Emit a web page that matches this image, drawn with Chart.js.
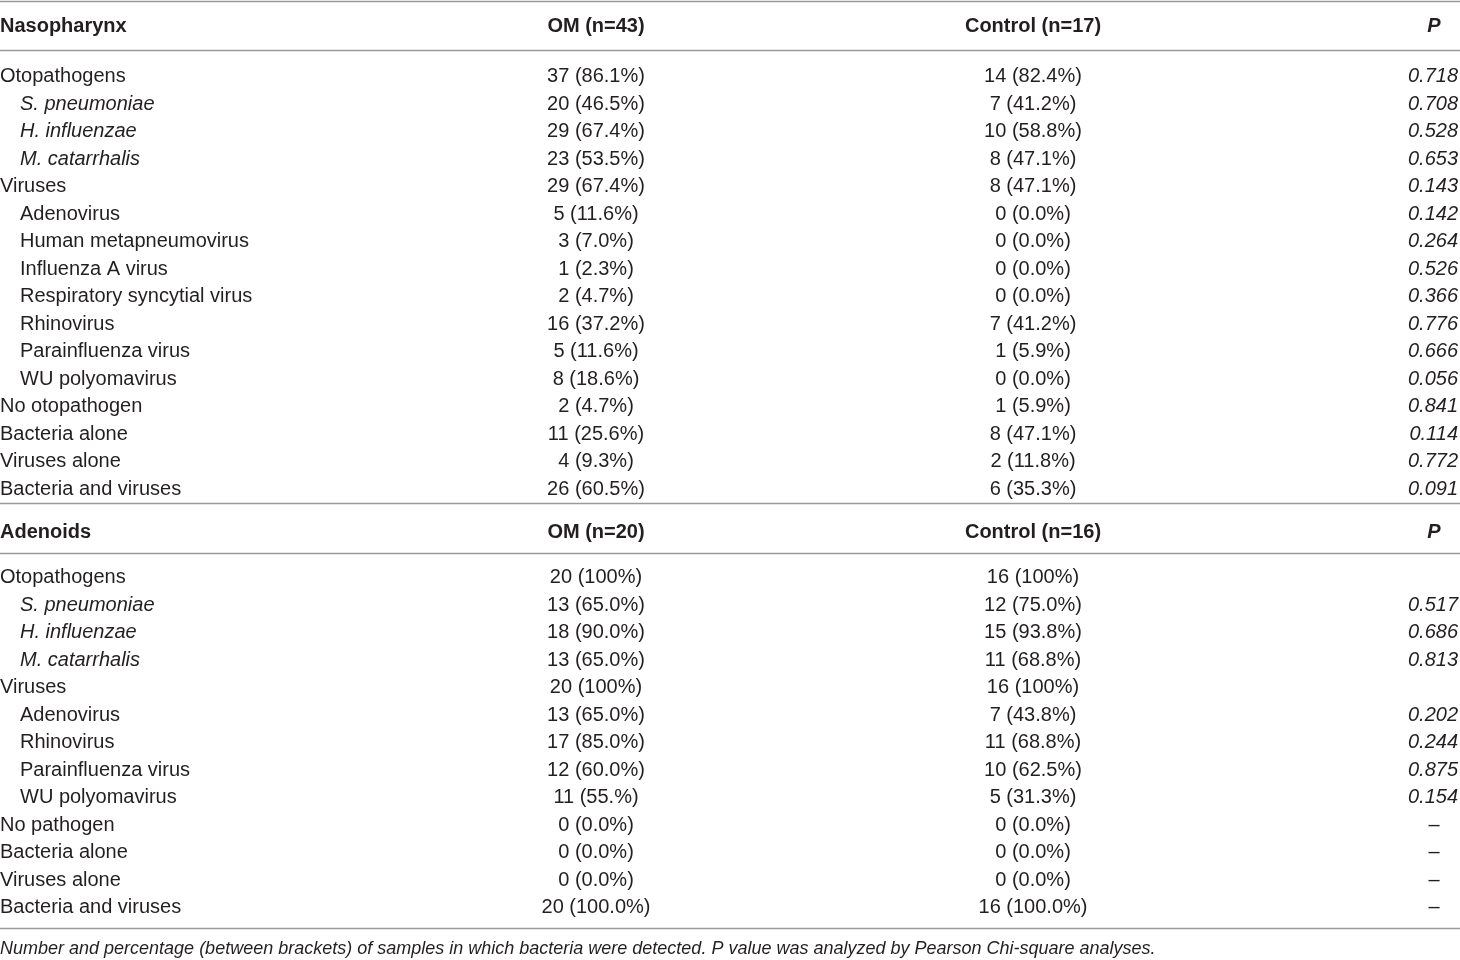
<!DOCTYPE html>
<html>
<head>
<meta charset="utf-8">
<script src="https://cdn.jsdelivr.net/npm/chart.js@4.4.1/dist/chart.umd.min.js"></script>
<style>
  html, body { margin: 0; padding: 0; background: #fff; }
  canvas { display: block; }
</style>
</head>
<body>
<canvas id="tableChart" width="1460" height="960"></canvas>
<script>
// ---- data ----
const nasoHeads = ['Nasopharynx', 'OM (n=43)', 'Control (n=17)', 'P'];
const nasoLabels = ['Otopathogens', 'S. pneumoniae', 'H. influenzae', 'M. catarrhalis', 'Viruses',
  'Adenovirus', 'Human metapneumovirus', 'Influenza A virus', 'Respiratory syncytial virus',
  'Rhinovirus', 'Parainfluenza virus', 'WU polyomavirus', 'No otopathogen', 'Bacteria alone',
  'Viruses alone', 'Bacteria and viruses'];
const nasoOM = ['37 (86.1%)', '20 (46.5%)', '29 (67.4%)', '23 (53.5%)', '29 (67.4%)', '5 (11.6%)',
  '3 (7.0%)', '1 (2.3%)', '2 (4.7%)', '16 (37.2%)', '5 (11.6%)', '8 (18.6%)', '2 (4.7%)',
  '11 (25.6%)', '4 (9.3%)', '26 (60.5%)'];
const nasoControl = ['14 (82.4%)', '7 (41.2%)', '10 (58.8%)', '8 (47.1%)', '8 (47.1%)', '0 (0.0%)',
  '0 (0.0%)', '0 (0.0%)', '0 (0.0%)', '7 (41.2%)', '1 (5.9%)', '0 (0.0%)', '1 (5.9%)',
  '8 (47.1%)', '2 (11.8%)', '6 (35.3%)'];
const nasoP = ['0.718', '0.708', '0.528', '0.653', '0.143', '0.142', '0.264', '0.526', '0.366',
  '0.776', '0.666', '0.056', '0.841', '0.114', '0.772', '0.091'];

const adenoHeads = ['Adenoids', 'OM (n=20)', 'Control (n=16)', 'P'];
const adenoLabels = ['Otopathogens', 'S. pneumoniae', 'H. influenzae', 'M. catarrhalis', 'Viruses',
  'Adenovirus', 'Rhinovirus', 'Parainfluenza virus', 'WU polyomavirus', 'No pathogen',
  'Bacteria alone', 'Viruses alone', 'Bacteria and viruses'];
const adenoOM = ['20 (100%)', '13 (65.0%)', '18 (90.0%)', '13 (65.0%)', '20 (100%)', '13 (65.0%)',
  '17 (85.0%)', '12 (60.0%)', '11 (55.%)', '0 (0.0%)', '0 (0.0%)', '0 (0.0%)', '20 (100.0%)'];
const adenoControl = ['16 (100%)', '12 (75.0%)', '15 (93.8%)', '11 (68.8%)', '16 (100%)', '7 (43.8%)',
  '11 (68.8%)', '10 (62.5%)', '5 (31.3%)', '0 (0.0%)', '0 (0.0%)', '0 (0.0%)', '16 (100.0%)'];
const adenoP = ['', '0.517', '0.686', '0.813', '', '0.202', '0.244', '0.875', '0.154', '–', '–', '–', '–'];

const footnote = 'Number and percentage (between brackets) of samples in which bacteria were detected. P value was analyzed by Pearson Chi-square analyses.';

// ---- layout / style ----
const speciesNames = ['S. pneumoniae', 'H. influenzae', 'M. catarrhalis'];
const nasoIndent = [0, 1, 1, 1, 0, 1, 1, 1, 1, 1, 1, 1, 0, 0, 0, 0];
const adenoIndent = [0, 1, 1, 1, 0, 1, 1, 1, 1, 0, 0, 0, 0];
const colX = [0, 596, 1033, 1458];   // x scale is in canvas px
const pMidX = 1434;
const FONT = '"Liberation Sans", Arial, sans-serif';
const INK = '#231f20';

// y scale is in row slots (one slot = one body row)
const sec1 = { top: -0.87, head: 0, rule: 0.91, first: 1.82 };
const sec2 = { top: 17.38, head: 18.4, rule: 19.2, first: 20.04 };
const bottomRule = 32.84;
const footSlot = 33.56;

function colDatasets(sec, heads, labels, om, ctrl, pv, indent) {
  const sets = [];
  const rowsY = labels.map((_, i) => sec.first + i);
  // header row
  sets.push({
    data: [{ x: colX[0], y: sec.head }, { x: colX[1], y: sec.head }, { x: colX[2], y: sec.head }, { x: pMidX, y: sec.head }],
    texts: heads,
    fonts: ['bold 20px ' + FONT, 'bold 20px ' + FONT, 'bold 20px ' + FONT, 'italic bold 20px ' + FONT],
    aligns: ['left', 'center', 'center', 'center']
  });
  sets.push({
    data: labels.map((l, i) => ({ x: colX[0] + indent[i] * 20, y: rowsY[i] })),
    texts: labels,
    fonts: labels.map(l => (speciesNames.includes(l) ? 'italic ' : '') + '20px ' + FONT),
    aligns: labels.map(() => 'left')
  });
  sets.push({
    data: om.map((_, i) => ({ x: colX[1], y: rowsY[i] })),
    texts: om, fonts: om.map(() => '20px ' + FONT), aligns: om.map(() => 'center')
  });
  sets.push({
    data: ctrl.map((_, i) => ({ x: colX[2], y: rowsY[i] })),
    texts: ctrl, fonts: ctrl.map(() => '20px ' + FONT), aligns: ctrl.map(() => 'center')
  });
  sets.push({
    data: pv.map((v, i) => ({ x: v === '–' ? pMidX : colX[3], y: rowsY[i] })),
    texts: pv,
    fonts: pv.map(v => (v === '–' ? '' : 'italic ') + '20px ' + FONT),
    aligns: pv.map(v => (v === '–' ? 'center' : 'right'))
  });
  return sets;
}

const datasets = [
  ...colDatasets(sec1, nasoHeads, nasoLabels, nasoOM, nasoControl, nasoP, nasoIndent),
  ...colDatasets(sec2, adenoHeads, adenoLabels, adenoOM, adenoControl, adenoP, adenoIndent),
  {
    data: [{ x: colX[0], y: footSlot }],
    texts: [footnote], fonts: ['italic 18px ' + FONT], aligns: ['left']
  }
].map(d => Object.assign(d, { pointRadius: 0, showLine: false }));

const tablePlugin = {
  id: 'tableText',
  afterDatasetsDraw(chart) {
    const ctx = chart.ctx;
    const ys = chart.scales.y;
    const xs = chart.scales.x;
    ctx.save();
    // rules
    ctx.strokeStyle = '#9a9a9a';
    ctx.lineWidth = 1.5;
    [sec1.top, sec1.rule, sec2.top, sec2.rule, bottomRule].forEach(s => {
      const y = Math.round(ys.getPixelForValue(s)) + 0.5;
      ctx.beginPath();
      ctx.moveTo(xs.getPixelForValue(0), y);
      ctx.lineTo(xs.getPixelForValue(1460), y);
      ctx.stroke();
    });
    // cell texts (nudged 1px down so glyph centres sit on the row)
    ctx.translate(0, 1.5);
    ctx.fillStyle = INK;
    ctx.textBaseline = 'middle';
    chart.data.datasets.forEach((ds, di) => {
      const meta = chart.getDatasetMeta(di);
      meta.data.forEach((pt, i) => {
        const t = ds.texts[i];
        if (!t) return;
        ctx.font = ds.fonts[i];
        ctx.textAlign = ds.aligns[i];
        ctx.fillText(t, pt.x, pt.y);
      });
    });
    ctx.restore();
  }
};

new Chart(document.getElementById('tableChart').getContext('2d'), {
  type: 'scatter',
  data: { datasets: datasets },
  options: {
    responsive: false,
    animation: false,
    events: [],
    layout: { padding: 0 },
    plugins: { legend: { display: false }, tooltip: { enabled: false } },
    scales: {
      x: { type: 'linear', display: false, min: 0, max: 1460 },
      y: { type: 'linear', display: false, reverse: true, min: -25 / 27.5, max: (960 - 25) / 27.5 }
    }
  },
  plugins: [tablePlugin]
});
</script>
</body>
</html>
